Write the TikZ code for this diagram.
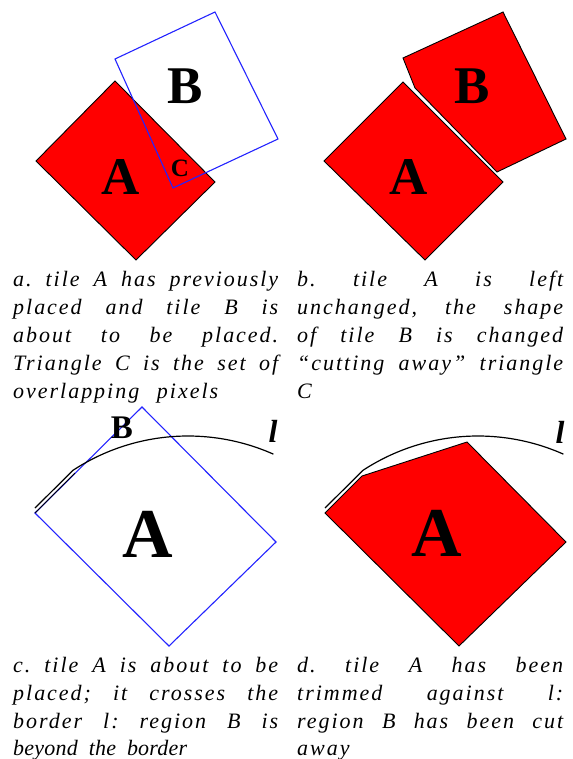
\documentclass[tikz,border=0pt]{standalone}
\usepackage{fontspec}
\setmainfont{Liberation Serif}
\newfontfamily\capfont[LetterSpace=9]{Liberation Serif}
\newfontfamily\capfontz[LetterSpace=1]{Liberation Serif}
\definecolor{tilered}{RGB}{255,0,0}
\definecolor{tileblue}{RGB}{35,35,255}
\frenchspacing
\begin{document}
\begin{tikzpicture}[x=1pt,y=-1pt,
  tile/.style={fill=tilered, draw=black, line width=0.9pt, line join=miter},
  outline/.style={draw=tileblue, line width=1.1pt},
  border/.style={draw=black, line width=1.2pt},
  lblbig/.style={inner sep=0, font=\bfseries\fontsize{53}{53}\selectfont},
  lblhuge/.style={inner sep=0, font=\bfseries\fontsize{70}{70}\selectfont},
  lblmid/.style={inner sep=0, font=\bfseries\fontsize{33}{33}\selectfont},
  lblsmall/.style={inner sep=0, font=\bfseries\fontsize{25}{25}\selectfont},
  lblell/.style={inner sep=0, font=\bfseries\itshape\fontsize{32}{32}\selectfont},
  capline/.style={anchor=base west, inner sep=0, font=\capfont\itshape\fontsize{22}{28}\selectfont\frenchspacing},
  caplinez/.style={anchor=base west, inner sep=0, font=\capfontz\itshape\fontsize{22}{28}\selectfont\frenchspacing}]
\useasboundingbox (0,0) rectangle (572,759);

% ---- panel a
\draw[tile] (115,81) -- (215,182) -- (136,260) -- (36,161) -- cycle;
\draw[outline] (115,59) -- (215,12) -- (278,139) -- (173,188) -- cycle;
\node[lblbig] (aB) at (185,86) {B};
\node[lblbig] (aA) at (121,177) {A};
\node[lblsmall] (aC) at (180,168) {C};

% ---- panel b
\draw[tile] (403,82) -- (503,182) -- (425,260) -- (324,161) -- cycle;
\draw[tile] (403,58) -- (503,12) -- (566,139) -- (497,172) -- (415,88) -- cycle;
\node[lblbig] (bB) at (472,86) {B};
\node[lblbig] (bA) at (409,177) {A};

% ---- panel c
\draw[outline] (142,407) -- (276,542) -- (169,646) -- (35,513) -- cycle;
\draw[draw=black, line width=1pt] (35,513) -- (75,473);
\draw[border] (35,508) -- (73,470.3) -- plot[domain=-123.2:-66, samples=60] ({188+210*cos(\x)},{646+210*sin(\x)});
\node[lblmid] (cB) at (122,428) {B};
\node[lblhuge] (cA) at (148,534) {A};
\node[lblell] (cl) at (273,431) {l};

% ---- panel d
\draw[tile] (325,513) -- (362,476) -- (467,442) -- (566,542) -- (459,646) -- cycle;
\draw[border] (325,508) -- (363,470.3) -- plot[domain=-123.2:-66, samples=60] ({478+210*cos(\x)},{646+210*sin(\x)});
\node[lblhuge] (dA) at (437,533) {A};
\node[lblell] (dl) at (560,432) {l};

% ---- captions
\node[capline] (a1) at (13,286) {\makebox[265pt][s]{a. tile A has previously}};
\node[capline] (a2) at (13,314) {\makebox[265pt][s]{placed and tile B is}};
\node[capline] (a3) at (13,342) {\makebox[265pt][s]{about to be placed.}};
\node[capline] (a4) at (13,370) {\makebox[265pt][s]{Triangle C is the set of}};
\node[capline] (a5) at (13,398) {\makebox[205pt][s]{overlapping pixels}};

\node[capline] (b1) at (297,286) {\makebox[266pt][s]{b. tile A is left}};
\node[capline] (b2) at (297,314) {\makebox[266pt][s]{unchanged, the shape}};
\node[capline] (b3) at (297,342) {\makebox[266pt][s]{of tile B is changed}};
\node[capline] (b4) at (297,370) {\makebox[266pt][s]{“cutting away” triangle}};
\node[capline] (b5) at (297,398) {C};

\node[capline] (c1) at (13,672) {\makebox[265pt][s]{c. tile A is about to be}};
\node[capline] (c2) at (13,700) {\makebox[265pt][s]{placed; it crosses the}};
\node[capline] (c3) at (13,728) {\makebox[265pt][s]{border l: region B is}};
\node[caplinez] (c4) at (13,755) {\makebox[174pt][s]{beyond the border}};

\node[capline] (d1) at (297,672) {\makebox[266pt][s]{d. tile A has been}};
\node[capline] (d2) at (297,700) {\makebox[266pt][s]{trimmed against l:}};
\node[capline] (d3) at (297,728) {\makebox[266pt][s]{region B has been cut}};
\node[capline] (d4) at (297,755) {away};
\end{tikzpicture}
\end{document}
